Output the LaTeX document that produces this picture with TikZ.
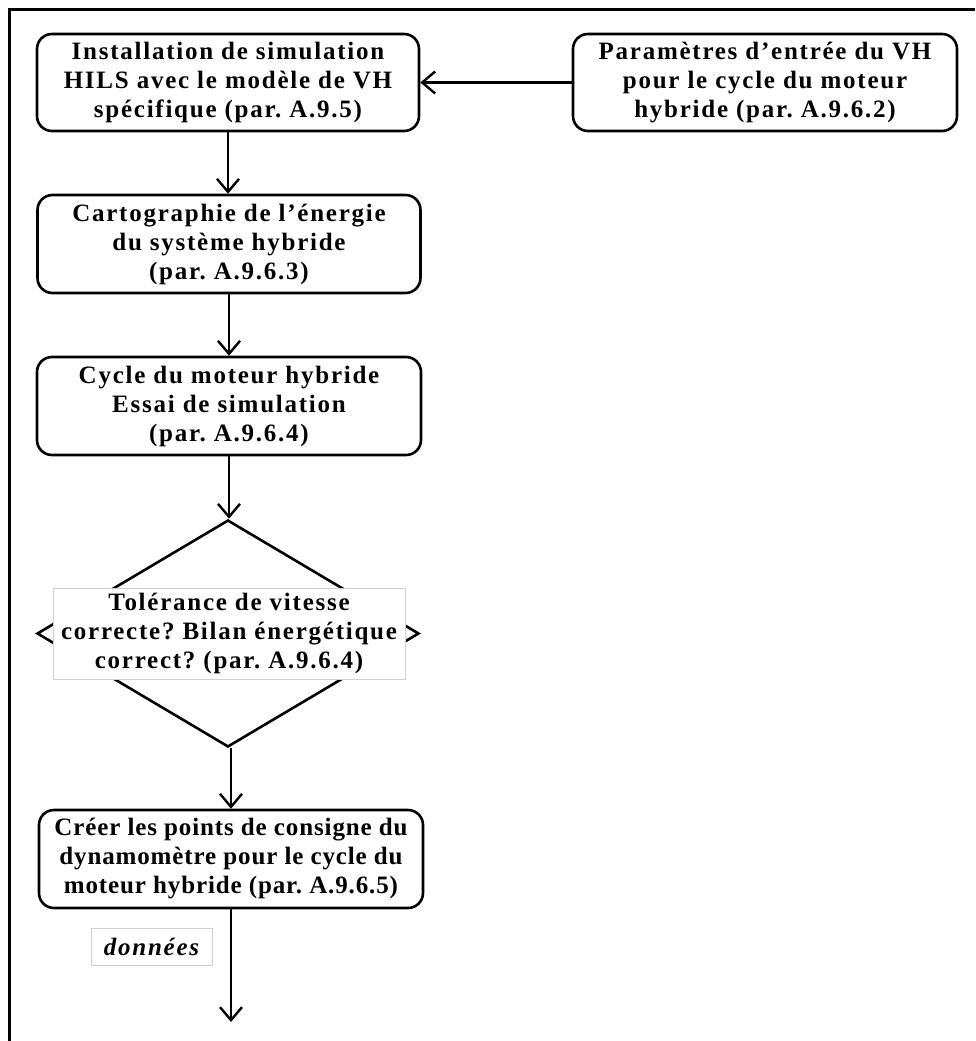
\documentclass[tikz,border=0pt]{standalone}
\usepackage{fontspec}
\setmainfont{Liberation Serif}
\usetikzlibrary{arrows.meta,shapes.geometric}
\frenchspacing
\tikzset{
  x=1pt, y=-1pt,
  boxtxt/.style={font=\bfseries\fontsize{25}{29}\selectfont\addfontfeature{LetterSpace=7}, align=center},
  procbox/.style={boxtxt, draw, line width=2.6pt, rounded corners=15pt,
    minimum width=382pt, minimum height=97pt, inner sep=0pt, fill=white},
  decision/.style={draw, line width=2.6pt, shape=diamond,
    minimum width=382pt, minimum height=227pt, inner sep=0pt},
  textframe/.style={draw=black!18, line width=1pt, fill=white, inner sep=0pt},
  flow/.style={line width=2.4pt, -{Straight Barb[length=13pt,width=22pt,line width=2.4pt]}},
}
\begin{document}
\begin{tikzpicture}
\useasboundingbox (0,0) rectangle (975,1041);
% open frame: top and left edges
\draw[line width=3pt] (9,1041) -- (9,10) -- (975,10);

\node[procbox] (setup) at (228,82.5)
  {Installation de simulation\\HILS avec le modèle de VH\\spécifique (par. A.9.5)};
\node[procbox, minimum width=384pt] (params) at (765,82.5)
  {Paramètres d’entrée du VH\\pour le cycle du moteur\\hybride (par. A.9.6.2)};
\node[procbox, minimum width=383pt, minimum height=98pt] (map) at (229,244)
  {Cartographie de l’énergie\\du système hybride\\(par. A.9.6.3)};
\node[procbox, minimum width=384pt, minimum height=98pt] (cycle) at (229,406)
  {Cycle du moteur hybride\\Essai de simulation\\(par. A.9.6.4)};
\node[decision] (check) at (228,633.5) {};
\node[textframe, boxtxt, minimum width=352pt, minimum height=91pt] (checktxt) at (229,633.5)
  {Tolérance de vitesse\\correcte? Bilan énergétique\\correct? (par. A.9.6.4)};
\node[procbox, minimum width=384pt, minimum height=98pt,
  font=\bfseries\fontsize{25}{29}\selectfont\addfontfeature{LetterSpace=3.5}] (points) at (231,859)
  {Créer les points de consigne du\\dynamomètre pour le cycle du\\moteur hybride (par. A.9.6.5)};
\node[textframe, font=\bfseries\itshape\fontsize{25}{29}\selectfont\addfontfeature{LetterSpace=7},
  minimum width=121pt, minimum height=37pt] (data) at (151.5,946.5) {données};
\coordinate (out) at (231,1022);

\draw[flow] (params.west) -- (setup.east);
\draw[flow] (setup.south) -- (setup.south |- map.north);
\draw[flow] (map.south) -- (map.south |- cycle.north);
\draw[flow] (cycle.south) -- (cycle.south |- check.north);
\draw[flow] (points.north |- check.south) -- (points.north);
\draw[flow] (points.south) -- (out);
\end{tikzpicture}
\end{document}
